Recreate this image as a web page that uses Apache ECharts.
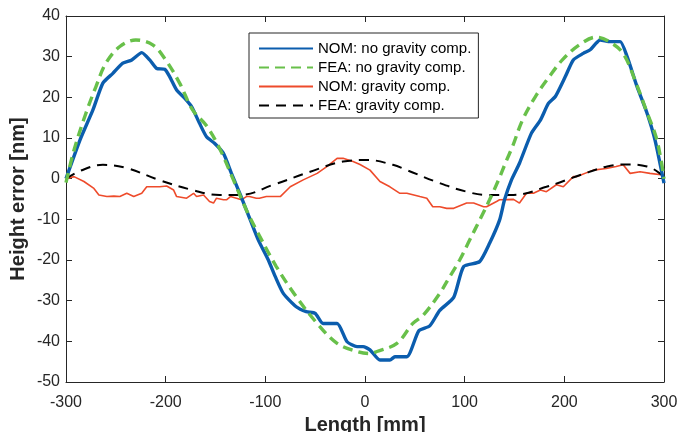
<!DOCTYPE html>
<html>
<head>
<meta charset="utf-8">
<script src="https://cdn.jsdelivr.net/npm/echarts@6/dist/echarts.min.js"></script>
<style>
  html, body { margin: 0; padding: 0; background: #fff; }
  #chart { width: 680px; height: 432px; }
</style>
</head>
<body>
<div id="chart"></div>
<script>
// values (x in mm, y in nm)
var nomNoGravX = [-300, -286, -273, -263, -253, -243, -234, -224, -216, -209, -201, -196, -189, -181, -174, -166, -159, -151, -142, -134, -125, -115, -107, -97, -90, -82, -69, -59, -50, -42, -28, -18, -8, -2, 5, 15, 25, 30, 42, 54, 65, 75, 89, 99, 115, 125, 135, 140, 147, 155, 167, 176, 184, 191, 201, 209, 219, 226, 236, 246, 256, 263, 273, 283, 291, 300];
var nomNoGravY = [0, 9.5, 16.9, 23.5, 25.9, 28.4, 29.2, 31, 29.2, 27.1, 26.9, 25.1, 21.8, 19.8, 17.7, 13.6, 10.3, 8.7, 6.2, 1.3, -4, -10.2, -15.1, -20, -24.1, -28.2, -31.5, -32.7, -33.1, -35.6, -35.6, -40.1, -41.3, -41.3, -42.1, -44.6, -44.6, -43.8, -43.8, -37.4, -36.2, -32.4, -29.2, -21.6, -20.4, -15.9, -10.2, -5.2, -0.3, 3.8, 11.2, 14.4, 18.5, 20.2, 25.1, 29.2, 30.8, 31.7, 34.1, 33.7, 33.7, 30, 22.6, 16.1, 9.5, -1.1];

var feaNoGravX = [-300, -292, -280, -270, -260, -246, -230, -213, -200, -186, -173, -159, -146, -132, -119, -109, -89, -69, -48, -28, -8, 5, 12, 32, 48, 58, 75, 85, 95, 105, 115, 125, 134, 142, 148, 158, 171, 185, 198, 215, 232, 245, 259, 272, 282, 292, 297, 300];
var feaNoGravY = [-1, 7, 16.1, 22.6, 28.4, 32.5, 34.1, 32.9, 29.2, 23.5, 16.9, 13, 7.5, -0.3, -7.7, -12.6, -21.6, -29, -35.6, -40.5, -42.5, -43, -42.5, -40.5, -35.6, -33.7, -28.2, -24.1, -20, -15.1, -10.2, -5.2, -0.3, 4.5, 7.9, 14.4, 20.2, 25.1, 29.2, 32.9, 34.8, 33.7, 30.8, 23.5, 16.9, 10.3, 4.6, 0];

var nomGravX = [-300, -292, -282, -272, -267, -259, -252, -246, -239, -232, -224, -219, -212, -206, -199, -192, -189, -179, -172, -169, -162, -156, -152, -149, -142, -139, -135, -129, -124, -119, -116, -109, -106, -99, -85, -75, -62, -48, -38, -28, -22, -12, -5, 5, 15, 25, 35, 42, 55, 62, 68, 75, 82, 89, 102, 109, 119, 122, 132, 135, 149, 155, 162, 169, 176, 182, 192, 199, 209, 212, 229, 242, 252, 259, 266, 276, 286, 299];
var nomGravY = [0, 0.5, -0.7, -2.4, -4, -4.4, -4.3, -4.4, -3.6, -4.4, -3.6, -2, -2, -2, -1.8, -2.8, -4.4, -4.8, -3.6, -4.4, -4, -5.6, -6, -4.8, -5.2, -5.2, -4.4, -4.8, -5.2, -4.4, -4.4, -4.8, -4.8, -4.4, -4.4, -2, -0.3, 1.3, 3, 5, 5, 4.2, 3.5, 2.1, -0.7, -2, -3.6, -3.6, -4.4, -4.8, -6.9, -6.9, -7.3, -7.3, -6, -6, -6.9, -6.9, -5.6, -5.2, -5.1, -6, -3.6, -3.6, -2.8, -3.2, -1.5, -2, 0.5, 0.5, 2.1, 2.5, 3, 3.4, 1.3, 1.7, 1.3, 0.9];

var feaGravX = [-300, -285, -263, -239, -207, -173, -146, -125, -92, -55, -22, 2, 28, 42, 75, 102, 122, 149, 182, 216, 243, 263, 283, 298, 300];
var feaGravY = [0, 2, 3.4, 2.6, -0.3, -2.8, -4, -4, -1.5, 1.7, 4.2, 4.6, 3.4, 2.1, -1.1, -3.2, -4, -4, -2, 0.9, 3, 3.5, 3, 0.9, 0];

var seriesNames = ['NOM: no gravity comp.', 'FEA: no gravity comp.', 'NOM: gravity comp.', 'FEA: gravity comp.'];

function pairs(xs, ys) {
  return xs.map(function (x, i) { return [x, ys[i]]; });
}

var chart = echarts.init(document.getElementById('chart'), null, { renderer: 'canvas' });

var axisColor = '#262626';
var fontFamily = '"Liberation Sans", Arial, Helvetica, sans-serif';

var option = {
  backgroundColor: '#ffffff',
  animation: false,
  textStyle: { fontFamily: fontFamily },
  grid: { left: 66, right: 16, top: 16, bottom: 50, containLabel: false, outerBoundsMode: 'none' },
  legend: {
    orient: 'vertical',
    left: 249,
    top: 33,
    padding: [8, 7, 5, 9],
    itemGap: 4,
    itemWidth: 54,
    itemHeight: 14,
    borderColor: axisColor,
    borderWidth: 1,
    backgroundColor: '#fff',
    itemStyle: { opacity: 0 },
    textStyle: { fontSize: 15, lineHeight: 15, color: '#000', fontFamily: fontFamily },
    data: seriesNames
  },
  xAxis: [{
    type: 'value',
    min: -300, max: 300, interval: 100,
    name: 'Length [mm]',
    nameLocation: 'middle',
    nameGap: 31,
    nameTextStyle: { fontSize: 20, fontWeight: 'bold', color: axisColor },
    axisLine: { onZero: false, lineStyle: { color: axisColor, width: 1 } },
    axisTick: { inside: true, length: 6, lineStyle: { color: axisColor } },
    axisLabel: { fontSize: 16, color: axisColor, margin: 13 },
    splitLine: { show: false }
  }, {
    type: 'value', position: 'top',
    min: -300, max: 300, interval: 100,
    axisLine: { onZero: false, lineStyle: { color: axisColor, width: 1 } },
    axisTick: { inside: true, length: 6, lineStyle: { color: axisColor } },
    axisLabel: { show: false },
    splitLine: { show: false }
  }],
  yAxis: [{
    type: 'value',
    min: -50, max: 40, interval: 10,
    name: 'Height error [nm]',
    nameLocation: 'middle',
    nameGap: 38,
    nameMoveOverlap: false,
    nameTextStyle: { fontSize: 20, fontWeight: 'bold', color: axisColor },
    axisLine: { show: true, onZero: false, lineStyle: { color: axisColor, width: 1 } },
    axisTick: { show: true, inside: true, length: 6, lineStyle: { color: axisColor } },
    axisLabel: { fontSize: 16, color: axisColor, margin: 6 },
    splitLine: { show: false }
  }, {
    type: 'value', position: 'right',
    min: -50, max: 40, interval: 10,
    axisLine: { show: true, onZero: false, lineStyle: { color: axisColor, width: 1 } },
    axisTick: { show: true, inside: true, length: 6, lineStyle: { color: axisColor } },
    axisLabel: { show: false },
    splitLine: { show: false }
  }],
  series: [{
    name: seriesNames[0],
    type: 'line',
    data: pairs(nomNoGravX, nomNoGravY),
    symbol: 'none',
    smooth: 0.2,
    z: 4,
    lineStyle: { color: '#0B5DAE', width: 3.4 },
    itemStyle: { color: '#0B5DAE' }
  }, {
    name: seriesNames[1],
    type: 'line',
    data: pairs(feaNoGravX, feaNoGravY),
    symbol: 'none',
    smooth: 0.35,
    z: 5,
    lineStyle: { color: '#68C04A', width: 3.4, type: [10, 6] },
    itemStyle: { color: '#68C04A' }
  }, {
    name: seriesNames[2],
    type: 'line',
    data: pairs(nomGravX, nomGravY),
    symbol: 'none',
    smooth: false,
    z: 3,
    lineStyle: { color: '#EE4B2B', width: 1.6 },
    itemStyle: { color: '#EE4B2B' }
  }, {
    name: seriesNames[3],
    type: 'line',
    data: pairs(feaGravX, feaGravY),
    symbol: 'none',
    smooth: 0.4,
    z: 3,
    lineStyle: { color: '#000000', width: 2, type: [10, 7] },
    itemStyle: { color: '#000000' }
  }]
};

chart.setOption(option);
</script>
</body>
</html>
